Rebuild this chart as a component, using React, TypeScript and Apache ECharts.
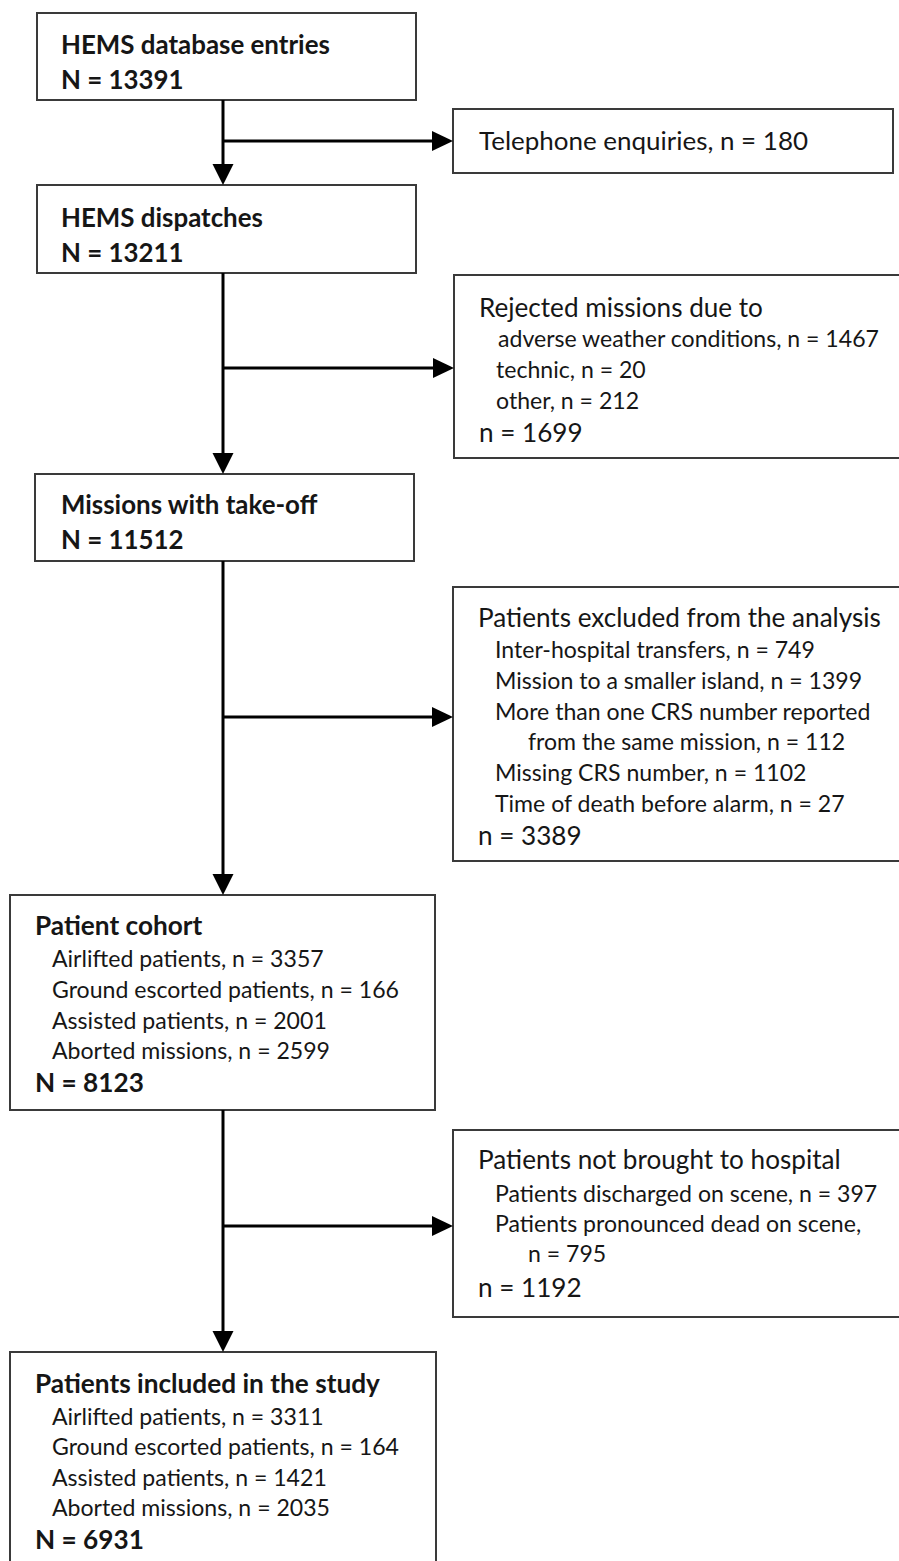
import React, { useEffect, useRef } from "react";
import * as echarts from "echarts";

// ---------- data ----------
const stageTitles = ["HEMS database entries", "HEMS dispatches", "Missions with take-off"];
const stageCounts = [13391, 13211, 11512];
const telephoneLabel = "Telephone enquiries";
const telephoneCount = 180;
const rejectedTitle = "Rejected missions due to";
const rejectedReasons = ["adverse weather conditions", "technic", "other"];
const rejectedCounts = [1467, 20, 212];
const rejectedTotal = 1699;
const excludedTitle = "Patients excluded from the analysis";
const excludedReasons = [
  "Inter-hospital transfers",
  "Mission to a smaller island",
  "More than one CRS number reported\nfrom the same mission",
  "Missing CRS number",
  "Time of death before alarm",
];
const excludedCounts = [749, 1399, 112, 1102, 27];
const excludedTotal = 3389;
const cohortTitle = "Patient cohort";
const patientGroups = ["Airlifted patients", "Ground escorted patients", "Assisted patients", "Aborted missions"];
const cohortCounts = [3357, 166, 2001, 2599];
const cohortTotal = 8123;
const notBroughtTitle = "Patients not brought to hospital";
const notBroughtReasons = ["Patients discharged on scene", "Patients pronounced dead on scene"];
const notBroughtCounts = [397, 795];
const notBroughtTotal = 1192;
const includedTitle = "Patients included in the study";
const includedCounts = [3311, 164, 1421, 2035];
const includedTotal = 6931;

// ---------- helpers ----------
const FAMILY = "Lato, 'Noto Sans', sans-serif";

function fit(text: string, weight: string, target: number, fallback: number) {
  try {
    const ctx = document.createElement("canvas").getContext("2d");
    if (!ctx) return fallback;
    ctx.font = `${weight} 100px Lato`;
    const w = ctx.measureText(text).width;
    const s = (100 * target) / w;
    if (!isFinite(s) || s < 16 || s > 34) return fallback;
    return s;
  } catch (e) {
    return fallback;
  }
}

export default function App() {
  const ref = useRef<HTMLDivElement>(null);

  useEffect(() => {
    if (!ref.current) return;
    const chart = echarts.init(ref.current, null, { renderer: "svg" });

    const szBoldTop = fit("HEMS database entries", "bold", 269, 25);
    const szBoldLow = fit("Patients included in the study", "bold", 345, 25);
    const szHead = fit("Patients excluded from the analysis", "normal", 403, 24);
    const szTel = fit("Telephone enquiries, n = 180", "normal", 329, 25);
    const szSub = fit("Ground escorted patients, n = 166", "normal", 347, 21.5);

    const TEXT = "#161616";
    const els: any[] = [];

    const txt = (text: string, x: number, y: number, size: number, bold = false) => {
      els.push({
        type: "text",
        x,
        y,
        z: 10,
        style: {
          text,
          font: `${bold ? "bold" : "normal"} ${size.toFixed(2)}px ${FAMILY}`,
          fill: TEXT,
          align: "left",
          verticalAlign: "middle",
          textAlign: "left",
          textVerticalAlign: "middle",
        },
      });
    };
    const box = (x: number, y: number, w: number, h: number) => {
      els.push({
        type: "rect",
        z: 1,
        shape: { x, y, width: w, height: h },
        style: { fill: "#ffffff", stroke: "#3a3a3a", lineWidth: 2 },
      });
    };
    const line = (x1: number, y1: number, x2: number, y2: number) => {
      els.push({
        type: "line",
        z: 5,
        shape: { x1, y1, x2, y2 },
        style: { stroke: "#000000", lineWidth: 3 },
      });
    };
    const downArrow = (x: number, y1: number, tip: number) => {
      line(x, y1, x, tip - 18);
      els.push({
        type: "polygon",
        z: 6,
        shape: { points: [[x - 10.5, tip - 21], [x + 10.5, tip - 21], [x, tip]] },
        style: { fill: "#000000" },
      });
    };
    const rightArrow = (x1: number, y: number, tip: number) => {
      line(x1, y, tip - 18, y);
      els.push({
        type: "polygon",
        z: 6,
        shape: { points: [[tip - 21, y - 10], [tip - 21, y + 10], [tip, y]] },
        style: { fill: "#000000" },
      });
    };

    const VX = 223;
    const fmt = (label: string, n: number) => `${label}, n = ${n}`;

    // main stage boxes
    const stageBoxes = [
      { x: 37, y: 13, w: 379, h: 87, ys: [44, 79] },
      { x: 37, y: 185, w: 379, h: 88, ys: [217, 252] },
      { x: 35, y: 474, w: 379, h: 87, ys: [504, 538.5] },
    ];
    stageBoxes.forEach((b, i) => {
      box(b.x, b.y, b.w, b.h);
      txt(stageTitles[i], 61, b.ys[0], szBoldTop, true);
      txt(`N = ${stageCounts[i]}`, 61, b.ys[1], szBoldTop, true);
    });

    // telephone box
    box(453, 109, 440, 64);
    txt(fmt(telephoneLabel, telephoneCount), 479, 140, szTel);

    // rejected
    box(454, 275, 470, 183);
    {
      const ys = [307, 338, 369, 400, 431.5];
      txt(rejectedTitle, 479, ys[0], szHead);
      rejectedReasons.forEach((r, i) => txt(fmt(r, rejectedCounts[i]), i === 0 ? 498 : 496, ys[i + 1], szSub));
      txt(`n = ${rejectedTotal}`, 479, ys[4], szHead);
    }

    // excluded
    box(453, 587, 470, 274);
    {
      const ys = [617, 649, 680, 711, 741, 772, 803, 835];
      txt(excludedTitle, 478, ys[0], szHead);
      let k = 1;
      excludedReasons.forEach((r, i) => {
        const parts = fmt(r, excludedCounts[i]).split("\n");
        parts.forEach((p, j) => {
          txt(p, j === 0 ? 495 : 528, ys[k], szSub);
          k++;
        });
      });
      txt(`n = ${excludedTotal}`, 478, ys[k], szHead);
    }

    // cohort
    box(10, 895, 425, 215);
    {
      const ys = [925, 958, 989, 1020, 1050, 1082];
      txt(cohortTitle, 35, ys[0], szBoldLow, true);
      patientGroups.forEach((g, i) => txt(fmt(g, cohortCounts[i]), 52, ys[i + 1], szSub));
      txt(`N = ${cohortTotal}`, 35, ys[5], szBoldLow, true);
    }

    // not brought
    box(453, 1130, 470, 187);
    {
      const ys = [1159, 1193, 1223, 1253, 1287];
      txt(notBroughtTitle, 478, ys[0], szHead);
      txt(fmt(notBroughtReasons[0], notBroughtCounts[0]), 495, ys[1], szSub);
      txt(`${notBroughtReasons[1]},`, 495, ys[2], szSub);
      txt(`n = ${notBroughtCounts[1]}`, 528, ys[3], szSub);
      txt(`n = ${notBroughtTotal}`, 478, ys[4], szHead);
    }

    // included
    box(10, 1352, 426, 240);
    {
      const ys = [1383, 1416, 1446, 1477, 1507, 1539];
      txt(includedTitle, 35, ys[0], szBoldLow, true);
      patientGroups.forEach((g, i) => txt(fmt(g, includedCounts[i]), 52, ys[i + 1], szSub));
      txt(`N = ${includedTotal}`, 35, ys[5], szBoldLow, true);
    }

    // connectors
    downArrow(VX, 100, 185);
    rightArrow(VX, 141, 453);
    downArrow(VX, 273, 474);
    rightArrow(VX, 368, 454);
    downArrow(VX, 561, 895);
    rightArrow(VX, 717, 453);
    downArrow(VX, 1110, 1352);
    rightArrow(VX, 1226, 453);

    chart.setOption({
      animation: false,
      backgroundColor: "#ffffff",
      graphic: { elements: els },
    });

    return () => chart.dispose();
  }, []);

  return (
    <div
      ref={ref}
      style={{ position: "absolute", left: 0, top: 0, width: 899, height: 1561, background: "#fff" }}
    />
  );
}
